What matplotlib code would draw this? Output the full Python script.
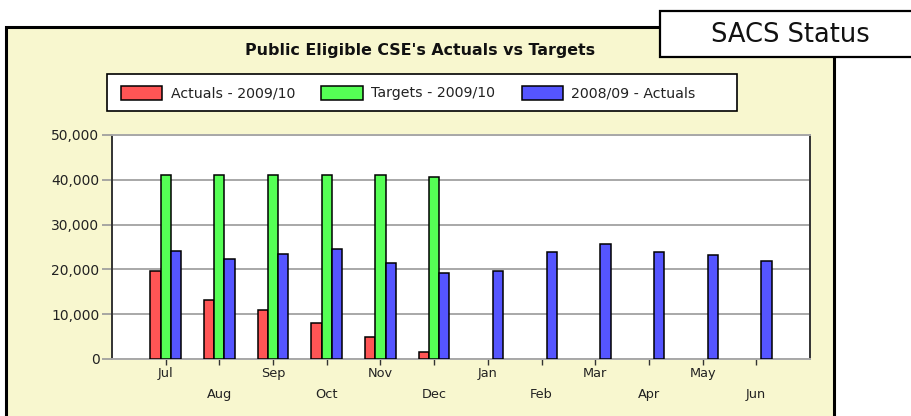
import matplotlib
matplotlib.use("Agg")
import matplotlib.pyplot as plt
from matplotlib.patches import Rectangle
import numpy as np

months = ['Jul', 'Aug', 'Sep', 'Oct', 'Nov', 'Dec',
          'Jan', 'Feb', 'Mar', 'Apr', 'May', 'Jun']
actuals_0910 = [19600, 13200, 10950, 8000, 4900, 1600]
targets_0910 = [41000, 41000, 41000, 41000, 41000, 40600]
actuals_0809 = [24100, 22300, 23400, 24500, 21500, 19200,
                19600, 23800, 25600, 23800, 23300, 21800]
series_names = ['Actuals - 2009/10', 'Targets - 2009/10', '2008/09 - Actuals']
series_colors = ['#ff5555', '#55ff55', '#5555ff']
yticks = [0, 10000, 20000, 30000, 40000, 50000]

W, H = 912, 416
plt.rcParams['font.family'] = ['DejaVu Sans']

fig = plt.figure(figsize=(W / 100, H / 100), dpi=100)
fig.patch.set_facecolor('white')

def px(x0, y0, x1, y1):
    # pixel box -> figure fraction (left, bottom, width, height)
    return (x0 / W, 1 - y1 / H, (x1 - x0) / W, (y1 - y0) / H)

def add_box(x0, y0, x1, y1, fc, lw, z):
    l, b, w, h = px(x0, y0, x1, y1)
    fig.patches.append(Rectangle((l, b), w, h, transform=fig.transFigure,
                                 facecolor=fc, edgecolor='black', lw=lw, zorder=z))

# yellow panel, SACS tab, legend frame
add_box(6, 27, 834, 430, '#f8f7cf', 2.2, 0)
add_box(660, 11, 930, 57, 'white', 1.6, 1)
add_box(107, 74, 737, 111, 'white', 1.2, 1)

fig.text(790 / W, 1 - 35 / H, 'SACS Status', fontsize=18.5,
         ha='center', va='center', color='#111111')

fig.text(420 / W, 1 - 50 / H, "Public Eligible CSE's Actuals vs Targets",
         fontsize=11.4, fontweight='bold', ha='center', va='center', color='#111111')

ax = fig.add_axes(px(112, 135, 810, 359))
ax.set_zorder(2)
ax.set_facecolor('white')
x = np.arange(len(months))
bw = 0.19
ax.bar(x[:len(actuals_0910)] - bw, actuals_0910, bw, color=series_colors[0],
       edgecolor='black', lw=1.1, label=series_names[0], zorder=3)
ax.bar(x[:len(targets_0910)], targets_0910, bw, color=series_colors[1],
       edgecolor='black', lw=1.1, label=series_names[1], zorder=3)
ax.bar(x + bw, actuals_0809, bw, color=series_colors[2],
       edgecolor='black', lw=1.1, label=series_names[2], zorder=3)

ax.set_xlim(-1, 12)
ax.set_ylim(0, 50000)
ax.set_yticks(yticks)
ax.set_yticklabels([f'{v:,}' for v in yticks], fontsize=10, color='#222222')
ax.yaxis.grid(True, color='#a8a8a8', lw=1.4, zorder=0)
ax.set_xticks(x)
ax.set_xticklabels([m if i % 2 == 0 else '\n' + m for i, m in enumerate(months)],
                   fontsize=9.3, linespacing=1.75, color='#222222')
ax.tick_params(axis='y', color='#999999', length=7, width=1.2, pad=2)
ax.tick_params(axis='x', color='#333333', length=4, width=1, direction='out', pad=2)
ax.spines['left'].set_color('#333333')
ax.spines['right'].set_color('#333333')
ax.spines['top'].set_color('#a8a8a8')
ax.spines['bottom'].set_color('#a8a8a8')
for s in ax.spines.values():
    s.set_linewidth(1.4)

leg = ax.legend(loc='center left', bbox_to_anchor=(121 / W, 1 - 93 / H),
                bbox_transform=fig.transFigure, ncol=3, fontsize=10.2, frameon=False,
                handlelength=2.9, handleheight=1.15, columnspacing=1.87, handletextpad=0.6,
                borderpad=0, borderaxespad=0)
for t in leg.get_texts():
    t.set_color('#222222')

fig.savefig('out.png', dpi=100, facecolor='white')
